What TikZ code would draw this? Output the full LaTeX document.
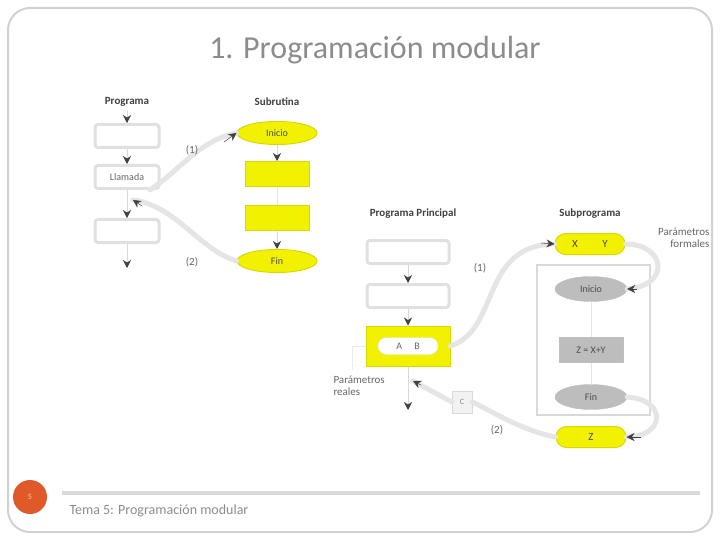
\documentclass[tikz,border=0pt]{standalone}
\usepackage{fontspec}
\setmainfont{Carlito}
\usetikzlibrary{arrows.meta,shapes.geometric,shapes.misc}
\definecolor{ttl}{HTML}{8C8C8C}
\definecolor{ylw}{HTML}{F2F200}
\definecolor{ylwd}{HTML}{D8D800}
\definecolor{gfill}{HTML}{BDBDBD}
\definecolor{orng}{HTML}{E0592A}
\tikzset{
  lbl/.style={font=\fontsize{11}{12}\selectfont\bfseries, text=black!75},
  wbox/.style={draw=black!12, line width=3pt, fill=white, rounded corners=3pt, minimum width=64pt, minimum height=23pt, font=\fontsize{10}{11}\selectfont, text=black!60},
  ybox/.style={draw=ylwd, line width=1pt, fill=ylw, minimum width=64pt, minimum height=25pt},
  yell/.style={ellipse, draw=ylwd, line width=1pt, fill=ylw, minimum width=80pt, minimum height=23pt, inner sep=0pt, font=\fontsize{10}{11}\selectfont, text=black!70},
  ypill/.style={rounded rectangle, draw=ylwd, line width=1pt, fill=ylw, minimum width=70pt, minimum height=21pt, inner sep=0pt, font=\fontsize{11}{12}\selectfont, text=black!70},
  gell/.style={ellipse, draw=black!25, fill=gfill, minimum width=72pt, minimum height=25pt, inner sep=0pt, font=\fontsize{10}{11}\selectfont, text=black!70},
  grect/.style={draw=black!25, fill=gfill, minimum width=64pt, minimum height=25pt, font=\fontsize{10}{11}\selectfont, text=black!70},
  flow/.style={draw=black!15, line width=0.6pt, -{Stealth[length=8pt,width=8pt,black!75]}},
  curve/.style={draw=black!10, line width=5pt, line cap=round},
  tipc/.style={draw=black!75, line width=0.5pt, -{Stealth[length=8pt,width=8pt,black!75]}},
  note/.style={font=\fontsize{11}{12}\selectfont, text=black!60},
}
\begin{document}
\begin{tikzpicture}[x=1pt,y=-1pt]
\useasboundingbox (0,0) rectangle (720,540);
% frame
\draw[black!18, line width=2pt, rounded corners=22pt] (8,8) rectangle (712,532);
% title
\node[font=\fontsize{32}{36}\selectfont, text=ttl] (title) at (375,50) {1. Programación modular};

% ---------- left diagram ----------
\node[lbl] (prog) at (127,102) {Programa};
\node[lbl] (subr) at (277,102) {Subrutina};
\node[wbox] (b1) at (127,136) {};
\node[wbox] (b2) at (127,177) {Llamada};
\node[wbox] (b3) at (127,231) {};
\coordinate (e1) at (127,268);
\draw[flow] (prog) -- (b1);
\draw[flow] (b1) -- (b2);
\draw[flow] (b2) -- (b3);
\draw[flow] (b3) -- (e1);

\node[yell] (ini) at (277,133) {Inicio};
\node[ybox] (r1) at (277,174) {};
\node[ybox] (r2) at (277,218) {};
\node[yell] (fin) at (277,261) {Fin};
\draw[flow] (ini) -- (r1);
\draw[draw=black!10, line width=0.6pt] (r1) -- (r2);
\draw[flow] (r2) -- (fin);

\coordinate (c1s) at (150,190);
\coordinate (ret1) at (133,200);
\draw[curve] (c1s) .. controls (180,170) and (200,140) .. (ini.west);
\draw[curve] (fin.west) .. controls (200,250) and (175,205) .. (ret1);
\draw[tipc] (224,142) -- (ini.west);
\draw[tipc] (142,206) -- (ret1);
\node[note] (l1) at (192,150) {(1)};
\node[note] (l2) at (192,262) {(2)};

% ---------- right diagram ----------
\node[lbl] (pp) at (413,214) {Programa Principal};
\node[lbl] (sp) at (590,214) {Subprograma};
\node[wbox, minimum width=82pt] (c1) at (408,252) {};
\node[wbox, minimum width=82pt] (c2) at (408,296) {};
\node[ybox, minimum width=84pt, minimum height=40pt] (c3) at (408,346) {};
\node[rounded rectangle, fill=white, draw=black!10, minimum width=60pt, minimum height=17pt, inner sep=0pt, font=\fontsize{10}{11}\selectfont, text=black!60] (pill) at (408,346) {A \quad B};
\coordinate (pend) at (408,410);
\coordinate (pret) at (413,381);
\draw[flow] (c1) -- (c2);
\draw[flow] (c2) -- (c3);
\draw[flow] (c3) -- (pend);

\node[note, align=left, anchor=west] (preal) at (330,386) {Parámetros\\reales};
\coordinate (pr1) at (352,346);
\coordinate (pr2) at (352,370);
\draw[draw=black!8, line width=0.8pt] (c3.west) -- (pr1) -- (pr2);

\node[draw=black!15, fill=black!5, minimum width=20pt, minimum height=22pt, font=\fontsize{8}{9}\selectfont, text=black!50] (sb) at (462,402) {C};

\node[ypill] (tp) at (590,244) {X \qquad Y};
\node[note, align=right, anchor=north east] (pform) at (713,224) {Parámetros\\formales};
\draw[draw=black!15, line width=2pt] (537,265) rectangle (650,415);
\node[gell] (gi) at (591,289) {Inicio};
\node[grect] (ga) at (591,350) {Z = X+Y};
\node[gell] (gf) at (591,397) {Fin};
\draw[draw=black!10, line width=0.6pt] (gi) -- (ga);
\draw[draw=black!10, line width=0.6pt] (ga) -- (gf);
\node[ypill] (bp) at (591,437) {Z};

% curves right
\draw[curve] (c3.east) .. controls (500,330) and (480,245) .. (tp.west);
\draw[tipc] (541,243) -- (tp.west);
\draw[curve] (tp.east) .. controls (665,244) and (672,285) .. (gi.east);
\draw[tipc] (637,289) -- (gi.east);
\draw[curve] (gf.east) .. controls (668,400) and (665,437) .. (bp.east);
\draw[tipc] (641,437) -- (bp.east);
\draw[curve] (bp.west) .. controls (520,430) and (490,410) .. (sb.east);
\draw[curve] (sb.west) -- (pret);
\draw[tipc] (421,385) -- (pret);
\node[note] (l3) at (480,268) {(1)};
\node[note] (l4) at (497,430) {(2)};

% ---------- footer ----------
\draw[black!15, line width=4pt] (62,493) -- (700,493);
\node[circle, fill=orng, minimum size=34pt, inner sep=0pt, font=\fontsize{8}{9}\selectfont, text=orange!40] (num) at (30,497) {5};
\node[anchor=west, font=\fontsize{14}{16}\selectfont, text=black!45] (foot) at (66,511) {Tema 5: Programación modular};
\end{tikzpicture}
\end{document}
